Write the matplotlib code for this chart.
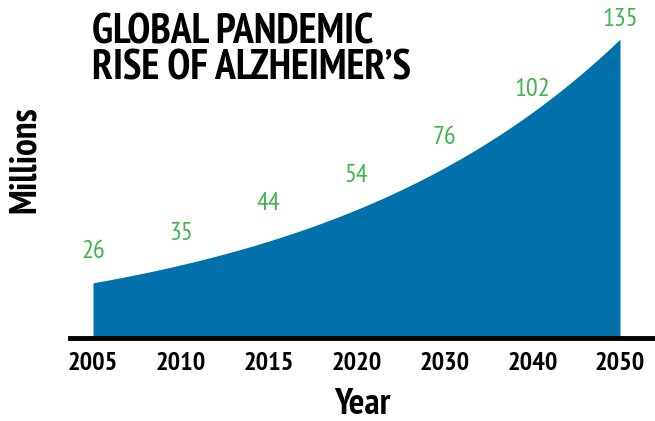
import numpy as np
import matplotlib
matplotlib.use("Agg")
import matplotlib.pyplot as plt

# dados
anos = ["2005", "2010", "2015", "2020", "2030", "2040", "2050"]
milhoes = [26, 35, 44, 54, 76, 102, 135]

# estilo
AZUL = "#0071ab"
VERDE = "#3db54a"
plt.rcParams["font.family"] = ["PT Sans Narrow", "Liberation Sans Narrow",
                               "Liberation Sans", "DejaVu Sans"]

# deslocamento vertical (px) de cada rótulo acima da curva
rotulo_dy = [31, 31, 38, 34, 30, 23, 20]

fig = plt.figure(figsize=(6.55, 4.21), dpi=100)
ax = fig.add_axes([70 / 655, (421 - 338) / 421, 1 - 70 / 655, 338 / 421])

x = np.arange(len(anos))
y = np.array(milhoes, dtype=float)

# tendência exponencial ajustada aos dados (mínimos quadrados em log)
b, a = np.polyfit(x, np.log(y), 1, w=y)
xs = np.linspace(x[0], x[-1], 200)
ys = np.exp(a + b * xs)
ax.fill_between(xs, 0, ys, color=AZUL, linewidth=0)

ax.set_xlim(-23 / 87.83, 6 + 35 / 87.83)
ax.set_ylim(0, 338 / (300 / 135))

for xi, yi, dy in zip(x, y, rotulo_dy):
    yc = np.exp(a + b * xi)
    ax.annotate(str(int(yi)), (xi, yc), xytext=(0, dy * 0.72), textcoords="offset points",
                ha="center", va="center", color=VERDE, fontsize=19)

for s in ["top", "right", "left"]:
    ax.spines[s].set_visible(False)
ax.spines["bottom"].set_linewidth(3.5)
ax.spines["bottom"].set_color("black")
ax.set_yticks([])
ax.set_xticks(x)
ax.set_xticklabels(anos, fontsize=19, fontweight="bold")
ax.tick_params(axis="x", length=0, pad=10)

fig.text(92 / 655, 1 - 51 / 421, "GLOBAL PANDEMIC\nRISE OF ALZHEIMER\u2019S",
         fontsize=30, fontweight="bold", ha="left", va="center", linespacing=0.9)
fig.text(362 / 655, 1 - 404 / 421, "Year", fontsize=26.5, fontweight="bold",
         ha="center", va="center")
fig.text(25 / 655, 1 - 160 / 421, "Millions", fontsize=27, fontweight="bold",
         ha="center", va="center", rotation=90)

fig.savefig("out.png", dpi=100)
